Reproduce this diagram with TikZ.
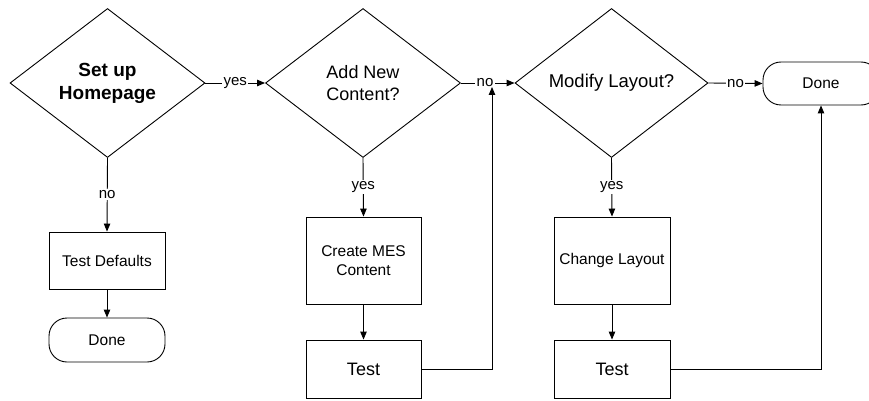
\documentclass[tikz,border=0pt]{standalone}
\usepackage{fontspec}
\setmainfont{Liberation Sans}
\usetikzlibrary{shapes.geometric,arrows.meta}
\begin{document}
\begin{tikzpicture}[x=1pt,y=-1pt,
  line width=0.9pt,
  every node/.style={line width=0.9pt},
  dec/.style={draw, diamond, minimum width=195pt, minimum height=149pt, inner sep=0pt, align=center, font=\fontsize{18}{22}\selectfont},
  box/.style={draw, rectangle, inner sep=0pt, align=center, font=\fontsize{15.5}{18.5}\selectfont},
  term/.style={draw, rectangle, rounded corners=18pt, minimum width=116pt, minimum height=44pt, inner sep=0pt, font=\fontsize{15.5}{18}\selectfont},
  lbl/.style={fill=white, inner sep=1.5pt, font=\fontsize{15}{17}\selectfont},
  arr/.style={-{Triangle[length=8pt,width=6.5pt]}}
]
\useasboundingbox (0,0) rectangle (869,401);

\node[dec, font=\fontsize{19}{23}\selectfont\bfseries] (d1) at (107.5,83) {Set up\\Homepage};
\node[dec] (d2) at (363,83) {Add New\\Content?};
\node[dec, minimum width=193pt, font=\fontsize{18.5}{21}\selectfont] (d3) at (611.5,83) {Modify Layout?};
\node[term, minimum height=43pt] (done2) at (821,83.5) {Done};

\node[box, minimum width=116pt, minimum height=57pt] (td) at (107,260.5) {Test Defaults};
\node[term] (done1) at (107,340) {Done};

\node[box, minimum width=115pt, minimum height=87pt] (cmes) at (363.5,260.5) {Create MES\\Content};
\node[box, minimum width=115pt, minimum height=58pt, font=\fontsize{18}{21}\selectfont] (t1) at (363.5,369) {Test};

\node[box, minimum width=116pt, minimum height=87pt] (cl) at (612,260.5) {Change Layout};
\node[box, minimum width=116pt, minimum height=58pt, font=\fontsize{18}{21}\selectfont] (t2) at (612,369) {Test};

\coordinate (j1) at (492,87);

\draw[arr] (d1.east) -- node[lbl] {yes} (d2.west);
\draw[arr] (d2.east) -- node[lbl, pos=0.45] {no} (d3.west);
\draw[arr] (d3.east) -- node[lbl] {no} (done2.west);

\draw[arr] (d1.south) -- node[lbl] {no} (td.north);
\draw[arr] (d2.south) -- node[lbl] {yes} (cmes.north);
\draw[arr] (d3.south) -- node[lbl] {yes} (cl.north);

\draw[arr] (td) -- (done1);
\draw[arr] (cmes) -- (t1);
\draw[arr] (cl) -- (t2);

\draw[arr] (t1.east) -| (j1);
\draw[arr] (t2.east) -| (done2.south);
\end{tikzpicture}
\end{document}
